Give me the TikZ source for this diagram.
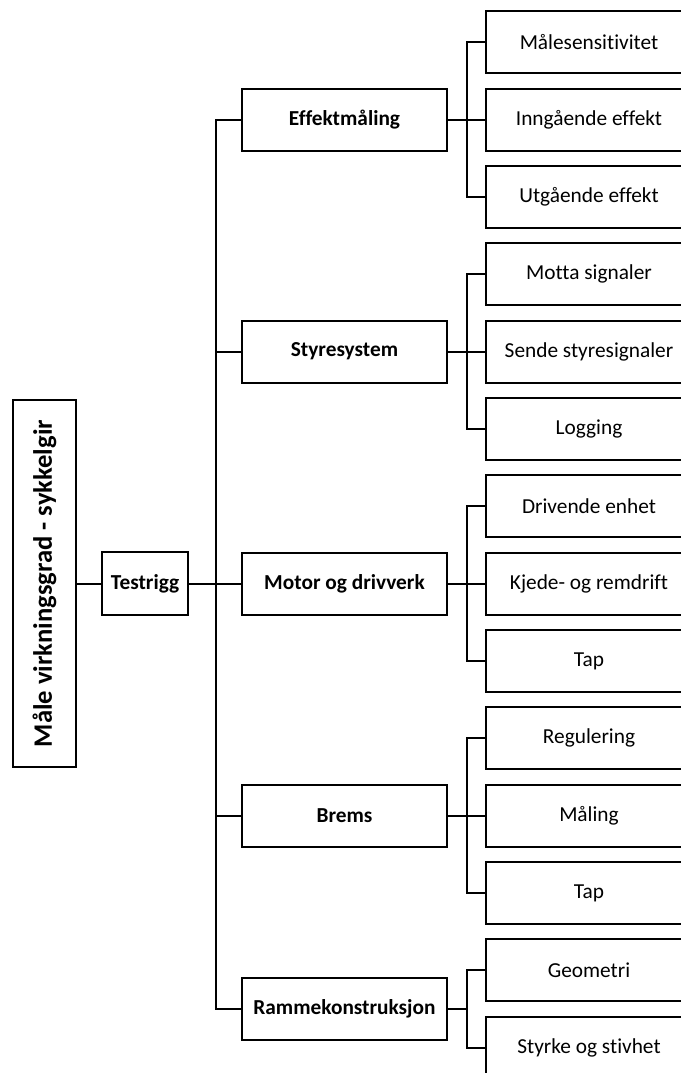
\documentclass[tikz,border=0pt]{standalone}
\usepackage{fontspec}
\setmainfont{Carlito}[Ligatures={NoCommon,NoRare}]
\begin{document}
\begin{tikzpicture}[x=1pt,y=-1pt,
  box/.style={draw=black,line width=2pt,fill=white,inner sep=0pt,align=center,
    font=\fontsize{21.33}{25}\selectfont},
  lvtwo/.style={box,minimum width=205pt,minimum height=62pt,font=\fontsize{21.33}{25}\selectfont\bfseries},
  lvthree/.style={box,minimum width=206pt,minimum height=62pt},
  conn/.style={line width=2pt,line cap=rect}]
\useasboundingbox (0,0) rectangle (680,1073);
% root and testrigg
\node[box,rotate=90,minimum width=367pt,minimum height=63pt,font=\fontsize{26.6}{31}\selectfont\bfseries] (root) at (44.5,583.5) {Måle virkningsgrad - sykkelgir};
\node[box,minimum width=86pt,minimum height=63pt,font=\fontsize{21.33}{25}\selectfont\bfseries] (tr) at (145,583.5) {Testrigg};
% level 2
\node[lvtwo] (a) at (344.5,119.5) {Effektmåling};
\node[lvtwo] (b) at (344.5,351.5) {Styresystem};
\node[lvtwo] (c) at (344.5,583.5) {Motor og drivverk};
\node[lvtwo] (d) at (344.5,815.5) {Brems};
\node[lvtwo] (e) at (344.5,1009) {Rammekonstruksjon};
% level 3
\node[lvthree] (a1) at (589,42) {Målesensitivitet};
\node[lvthree] (a2) at (589,119.5) {Inngående effekt};
\node[lvthree] (a3) at (589,197) {Utgående effekt};
\node[lvthree] (b1) at (589,274) {Motta signaler};
\node[lvthree] (b2) at (589,351.5) {Sende styresignaler};
\node[lvthree] (b3) at (589,429) {Logging};
\node[lvthree] (c1) at (589,506) {Drivende enhet};
\node[lvthree] (c2) at (589,583.5) {Kjede- og remdrift};
\node[lvthree] (c3) at (589,661) {Tap};
\node[lvthree] (d1) at (589,738) {Regulering};
\node[lvthree] (d2) at (589,815.5) {Måling};
\node[lvthree] (d3) at (589,893) {Tap};
\node[lvthree] (e1) at (589,970) {Geometri};
\node[lvthree] (e2) at (589,1048) {Styrke og stivhet};
% connectors
\coordinate (sp) at (216,583.5);
\draw[conn] (root.south) -- (tr.west);
\draw[conn] (tr.east) -- (sp);
\foreach \n in {a,b,c,d,e}{\draw[conn] (sp) |- (\n.west);}
\foreach \n/\y in {a/119.5,b/351.5,c/583.5,d/815.5,e/1009}{
  \coordinate (br\n) at (467,\y);
  \draw[conn] (\n.east) -- (br\n);
}
\foreach \n in {a,b,c,d}{
  \foreach \k in {1,2,3}{\draw[conn] (br\n) |- (\n\k.west);}
}
\foreach \k in {1,2}{\draw[conn] (bre) |- (e\k.west);}
\end{tikzpicture}
\end{document}
